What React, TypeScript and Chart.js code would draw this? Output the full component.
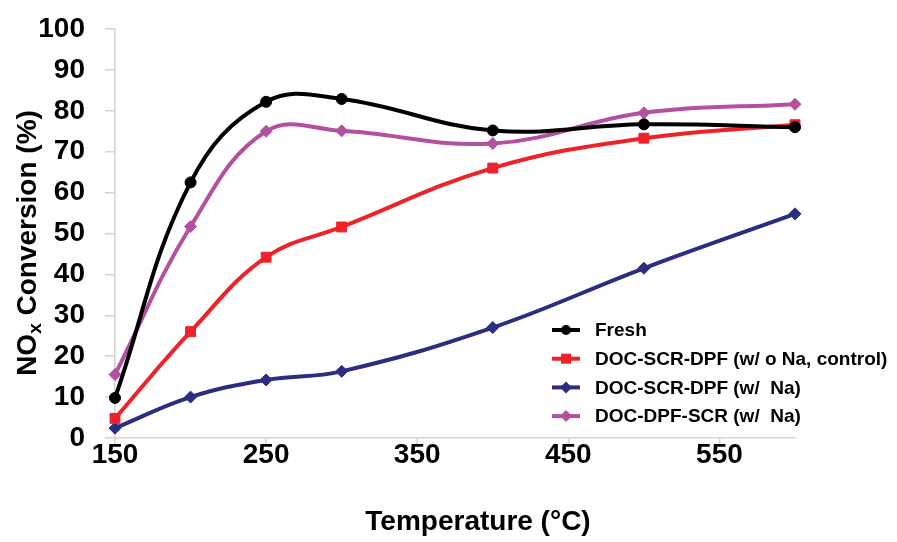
import React, { useEffect, useRef } from "react";
import { Chart, registerables } from "chart.js";

Chart.register(...registerables);

const temperatures = [150, 200, 250, 300, 400, 500, 600];
const fresh = [9.8, 62.5, 82.2, 82.9, 75.2, 76.7, 76.0];
const controlNoNa = [4.8, 26.0, 44.2, 51.6, 66.0, 73.3, 76.6];
const scrDpfNa = [2.4, 10.0, 14.2, 16.3, 27.0, 41.5, 54.8];
const dpfScrNa = [15.5, 51.7, 75.0, 75.1, 72.0, 79.5, 81.6];

const seriesLabels = [
  "Fresh",
  "DOC-SCR-DPF (w/ o Na, control)",
  "DOC-SCR-DPF (w/  Na)",
  "DOC-DPF-SCR (w/  Na)",
];
const seriesColors = ["#000000", "#ee2229", "#2b2d80", "#b350a0"];
const seriesMarkers = ["circle", "rect", "rectRot", "rectRot"];

const xTicks = [150, 250, 350, 450, 550];
const yTicks = [0, 10, 20, 30, 40, 50, 60, 70, 80, 90, 100];

const xTitle = "Temperature (°C)";
const yTitleMain = "NO";
const yTitleSub = "x";
const yTitleRest = " Conversion (%)";

const FONT = "'Liberation Sans', Arial, Helvetica, sans-serif";

const textPlugin = {
  id: "customText",
  afterDraw(chart: any) {
    const ctx = chart.ctx as CanvasRenderingContext2D;
    ctx.save();
    ctx.fillStyle = "#000";
    // Y title with subscript
    ctx.save();
    ctx.translate(28, 243);
    ctx.rotate(-Math.PI / 2);
    const big = `bold 28px ${FONT}`;
    const small = `bold 19px ${FONT}`;
    ctx.font = big;
    const w1 = ctx.measureText(yTitleMain).width;
    const w3 = ctx.measureText(yTitleRest).width;
    ctx.font = small;
    const w2 = ctx.measureText(yTitleSub).width;
    const total = w1 + w2 + w3;
    let x = -total / 2;
    ctx.textBaseline = "middle";
    ctx.textAlign = "left";
    ctx.font = big;
    ctx.fillText(yTitleMain, x, 0);
    x += w1;
    ctx.font = small;
    ctx.fillText(yTitleSub, x, 8);
    x += w2;
    ctx.font = big;
    ctx.fillText(yTitleRest, x, 0);
    ctx.restore();

    // X title
    ctx.font = `bold 28px ${FONT}`;
    ctx.textAlign = "center";
    ctx.textBaseline = "middle";
    ctx.fillText(xTitle, 478, 522);

    // Legend
    const lx = 552;
    const ly = 330;
    const step = 28.7;
    chart.data.datasets.forEach((ds: any, i: number) => {
      const y = ly + i * step;
      ctx.strokeStyle = ds.borderColor;
      ctx.lineWidth = 4;
      ctx.beginPath();
      ctx.moveTo(lx, y);
      ctx.lineTo(lx + 28, y);
      ctx.stroke();
      ctx.fillStyle = ds.borderColor;
      ctx.beginPath();
      const cx = lx + 14;
      const r = 5;
      if (ds.pointStyle === "circle") {
        ctx.arc(cx, y, r, 0, Math.PI * 2);
      } else if (ds.pointStyle === "rect") {
        ctx.rect(cx - r, y - r, 2 * r, 2 * r);
      } else {
        ctx.moveTo(cx - r - 1, y);
        ctx.lineTo(cx, y - r - 1);
        ctx.lineTo(cx + r + 1, y);
        ctx.lineTo(cx, y + r + 1);
        ctx.closePath();
      }
      ctx.fill();
      ctx.fillStyle = "#000";
      ctx.font = `bold 19px ${FONT}`;
      ctx.textAlign = "left";
      ctx.textBaseline = "middle";
      ctx.fillText(ds.label, 595, y + 1);
    });
    ctx.restore();
  },
};

export default function App() {
  const ref = useRef<HTMLCanvasElement | null>(null);

  useEffect(() => {
    if (!ref.current) return;
    const series = [fresh, controlNoNa, scrDpfNa, dpfScrNa];
    const datasets = series.map((vals, i) => ({
      label: seriesLabels[i],
      data: temperatures.map((t, j) => ({ x: t, y: vals[j] })),
      borderColor: seriesColors[i],
      backgroundColor: seriesColors[i],
      pointBackgroundColor: seriesColors[i],
      pointBorderColor: seriesColors[i],
      pointStyle: seriesMarkers[i],
      pointRadius: seriesMarkers[i] === "circle" ? 5.5 : seriesMarkers[i] === "rect" ? 7 : 6,
      pointBorderWidth: 1,
      borderWidth: 4,
      tension: 0.4,
      fill: false,
      clip: false,
    }));

    const chart = new Chart(ref.current, {
      type: "line",
      data: { datasets },
      options: {
        responsive: false,
        animation: false,
        devicePixelRatio: 1,
        layout: { padding: { left: 0, top: 29, right: 102, bottom: 0 } },
        plugins: {
          legend: { display: false },
          tooltip: { enabled: false },
          title: { display: false },
        },
        scales: {
          x: {
            type: "linear",
            min: 150,
            max: 600,
            afterBuildTicks: (s: any) => {
              s.ticks = xTicks.map((v) => ({ value: v }));
            },
            afterFit: (s: any) => {
              s.height = 104;
              s.paddingLeft = 0;
              s.paddingRight = 0;
            },
            grid: {
              drawOnChartArea: false,
              drawTicks: true,
              tickLength: 9,
              color: "#d4d4d4",
              lineWidth: 1.5,
            },
            border: { color: "#d4d4d4", width: 1.5 },
            ticks: {
              color: "#000",
              font: { family: FONT, size: 28, weight: "bold" },
              padding: -9,
              maxRotation: 0,
              autoSkip: false,
            },
          },
          y: {
            type: "linear",
            min: 0,
            max: 100,
            afterBuildTicks: (s: any) => {
              s.ticks = yTicks.map((v) => ({ value: v }));
            },
            afterFit: (s: any) => {
              s.width = 115;
              s.paddingTop = 0;
              s.paddingBottom = 0;
            },
            grid: {
              drawOnChartArea: false,
              drawTicks: true,
              tickLength: 10,
              color: "#d4d4d4",
              lineWidth: 1.5,
            },
            border: { color: "#d4d4d4", width: 1.5 },
            ticks: {
              color: "#000",
              font: { family: FONT, size: 28, weight: "bold" },
              padding: 20,
              autoSkip: false,
            },
          },
        },
      },
      plugins: [textPlugin],
    } as any);
    return () => chart.destroy();
  }, []);

  return (
    <div style={{ position: "fixed", left: 0, top: 0, width: 897, height: 542, background: "#fff" }}>
      <canvas ref={ref} width={897} height={542} style={{ display: "block" }} />
    </div>
  );
}
